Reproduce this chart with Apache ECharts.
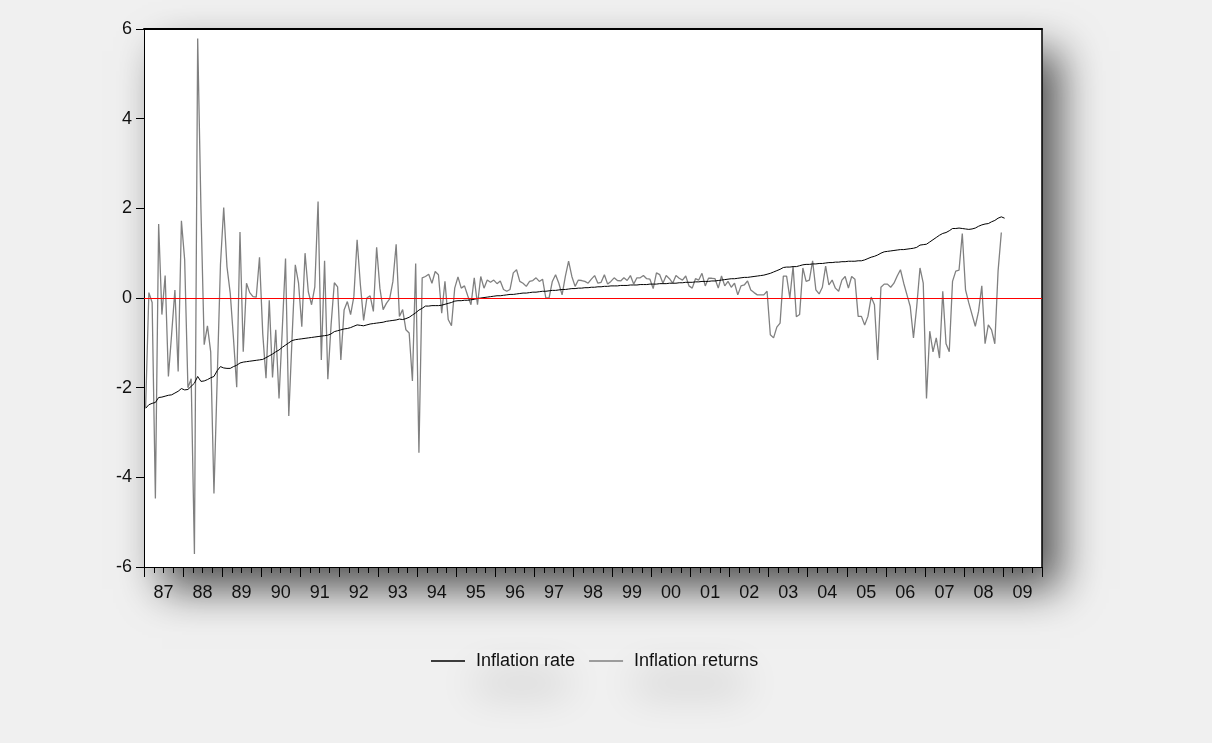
<!DOCTYPE html>
<html>
<head>
<meta charset="utf-8">
<script src="https://cdn.jsdelivr.net/npm/echarts@6/dist/echarts.min.js"></script>
<style>
html,body{margin:0;padding:0;background:#f0f0f0;}
#chart{width:1212px;height:743px;}
</style>
</head>
<body>
<div id="chart"></div>
<script>
// Year tick labels (1987..2009)
var yearLabels = ['87','88','89','90','91','92','93','94','95','96','97','98','99','00','01','02','03','04','05','06','07','08','09'];
var monthNames = ['M01','M02','M03','M04','M05','M06','M07','M08','M09','M10','M11','M12'];

// Inflation rate (black), monthly from 1987M01
var inflationRate = [
-2.46,-2.38,-2.35,-2.33,-2.22,-2.21,-2.19,-2.17,-2.16,-2.12,-2.08,-2.02,
-2.05,-2.04,-1.97,-1.90,-1.75,-1.86,-1.85,-1.82,-1.78,-1.75,-1.62,-1.53,
-1.56,-1.57,-1.57,-1.53,-1.50,-1.45,-1.43,-1.42,-1.41,-1.40,-1.39,-1.38,
-1.37,-1.33,-1.29,-1.25,-1.20,-1.16,-1.10,-1.05,-1.00,-0.95,-0.93,-0.92,
-0.91,-0.90,-0.89,-0.88,-0.87,-0.86,-0.85,-0.84,-0.83,-0.80,-0.75,-0.73,
-0.71,-0.69,-0.68,-0.66,-0.63,-0.60,-0.61,-0.62,-0.60,-0.58,-0.57,-0.56,
-0.55,-0.54,-0.52,-0.51,-0.50,-0.49,-0.47,-0.48,-0.46,-0.43,-0.38,-0.33,
-0.27,-0.23,-0.18,-0.18,-0.17,-0.17,-0.17,-0.16,-0.14,-0.12,-0.10,-0.07,
-0.06,-0.06,-0.05,-0.05,-0.04,-0.03,-0.01,0.00,0.01,0.02,0.03,0.04,
0.05,0.05,0.06,0.07,0.08,0.08,0.09,0.10,0.11,0.11,0.12,0.13,
0.13,0.14,0.15,0.15,0.16,0.17,0.17,0.18,0.19,0.19,0.20,0.21,
0.21,0.22,0.22,0.23,0.23,0.24,0.24,0.25,0.25,0.26,0.26,0.27,
0.27,0.27,0.28,0.28,0.28,0.29,0.29,0.29,0.30,0.30,0.30,0.31,
0.31,0.31,0.32,0.32,0.32,0.33,0.33,0.33,0.34,0.34,0.35,0.35,
0.35,0.36,0.36,0.37,0.37,0.37,0.38,0.38,0.39,0.40,0.41,0.42,
0.43,0.43,0.44,0.45,0.46,0.46,0.47,0.48,0.49,0.50,0.51,0.53,
0.55,0.58,0.61,0.64,0.68,0.69,0.69,0.70,0.70,0.72,0.74,0.75,
0.75,0.76,0.76,0.77,0.77,0.78,0.79,0.79,0.80,0.80,0.81,0.81,
0.82,0.82,0.82,0.83,0.83,0.85,0.88,0.91,0.93,0.96,1.00,1.03,
1.04,1.05,1.06,1.07,1.08,1.08,1.09,1.10,1.11,1.13,1.18,1.19,
1.20,1.25,1.30,1.35,1.40,1.44,1.46,1.50,1.55,1.55,1.56,1.55,
1.54,1.53,1.54,1.56,1.60,1.63,1.65,1.66,1.70,1.73,1.78,1.81,
1.78
];

// Inflation returns (gray), monthly from 1987M01
var inflationReturns = [
-2.45,0.12,-0.10,-4.47,1.65,-0.37,0.50,-1.75,-0.80,0.18,-1.64,1.72,
0.85,-2.00,-1.80,-5.71,5.79,2.00,-1.04,-0.62,-1.20,-4.36,-1.80,0.74,
2.02,0.70,0.11,-0.90,-1.99,1.47,-1.20,0.33,0.12,0.03,0.02,0.91,
-0.80,-1.79,-0.05,-1.77,-0.71,-2.24,-0.70,0.88,-2.63,-0.90,0.74,0.33,
-0.64,1.00,0.14,-0.15,0.25,2.15,-1.38,0.83,-1.81,-0.60,0.34,0.25,
-1.38,-0.27,-0.08,-0.37,0.03,1.30,0.30,-0.50,0.00,0.05,-0.30,1.13,
0.22,-0.26,-0.12,-0.02,0.37,1.20,-0.41,-0.26,-0.71,-0.78,-1.85,0.77,
-3.45,0.45,0.48,0.53,0.33,0.59,0.52,-0.34,0.37,-0.48,-0.62,0.22,
0.47,0.22,0.27,0.05,-0.15,0.45,-0.15,0.48,0.22,0.40,0.35,0.40,
0.32,0.38,0.19,0.15,0.19,0.56,0.63,0.37,0.33,0.26,0.37,0.39,
0.45,0.37,0.42,0.00,0.00,0.37,0.52,0.33,0.07,0.48,0.82,0.48,
0.26,0.40,0.39,0.37,0.33,0.42,0.50,0.33,0.35,0.52,0.31,0.37,
0.45,0.39,0.38,0.45,0.39,0.50,0.31,0.45,0.45,0.50,0.43,0.42,
0.21,0.56,0.52,0.33,0.50,0.43,0.33,0.50,0.44,0.40,0.49,0.27,
0.22,0.43,0.40,0.55,0.27,0.44,0.44,0.43,0.22,0.49,0.27,0.37,
0.24,0.33,0.07,0.27,0.29,0.38,0.18,0.12,0.07,0.07,0.07,0.15,
-0.82,-0.89,-0.65,-0.56,0.49,0.49,0.00,0.71,-0.42,-0.37,0.67,0.37,
0.40,0.83,0.18,0.09,0.24,0.71,0.29,0.40,0.22,0.15,0.40,0.48,
0.22,0.48,0.42,-0.41,-0.41,-0.60,-0.41,0.02,-0.15,-1.38,0.24,0.31,
0.31,0.24,0.33,0.49,0.63,0.33,0.07,-0.19,-0.89,-0.19,0.67,0.33,
-2.24,-0.74,-1.20,-0.89,-1.34,0.15,-1.02,-1.20,0.37,0.60,0.62,1.44,
0.18,-0.11,-0.37,-0.63,-0.30,0.27,-1.02,-0.60,-0.71,-1.02,0.60,1.46
];

var months = [];
yearLabels.forEach(function (y) { monthNames.forEach(function (m) { months.push(y + m); }); });

var FONT = "'Liberation Sans',Arial,sans-serif";
var chart = echarts.init(document.getElementById('chart'));
chart.setOption({
  backgroundColor: '#f0f0f0',
  animation: false,
  textStyle: { fontFamily: FONT },
  graphic: [
    { type: 'rect', z: 0, silent: true, shape: { x: 474, y: 650, width: 95, height: 14, r: 7 },
      style: { fill: '#f0f0f0', shadowBlur: 40, shadowOffsetY: 26, shadowColor: 'rgba(0,0,0,0.2)' } },
    { type: 'rect', z: 0, silent: true, shape: { x: 634, y: 650, width: 112, height: 14, r: 7 },
      style: { fill: '#f0f0f0', shadowBlur: 40, shadowOffsetY: 26, shadowColor: 'rgba(0,0,0,0.2)' } }
  ],
  grid: {
    left: 144, top: 29, width: 898, height: 538,
    show: true, backgroundColor: '#ffffff', borderWidth: 0,
    shadowColor: 'rgba(0,0,0,0.65)', shadowBlur: 40, shadowOffsetX: 18, shadowOffsetY: 22
  },
  legend: {
    z: 10, bottom: 68, left: 426, itemGap: 14, itemWidth: 34, itemHeight: 1.5,
    icon: 'rect',
    textStyle: { fontFamily: FONT, fontSize: 18, color: '#111', padding: [0, 0, 0, 6] },
    data: ['Inflation rate', 'Inflation returns']
  },
  xAxis: [
    {
      type: 'category', data: yearLabels, boundaryGap: true, gridIndex: 0, position: 'bottom',
      axisLine: { show: true, onZero: false, lineStyle: { color: '#000', width: 1 } },
      axisTick: { show: true, interval: 0, length: 10, inside: false, lineStyle: { color: '#000' } },
      axisLabel: { interval: 0, fontSize: 18, color: '#111', margin: 17, fontFamily: FONT },
      splitLine: { show: false }
    },
    {
      type: 'category', data: months, boundaryGap: true, gridIndex: 0, position: 'bottom',
      axisLine: { show: false, onZero: false },
      axisTick: { show: true, length: 6, lineStyle: { color: '#000' },
        interval: function (idx) { return idx % 3 === 0; } },
      axisLabel: { show: false },
      splitLine: { show: false }
    },
    {
      type: 'category', data: yearLabels, boundaryGap: true, gridIndex: 0, position: 'top',
      axisLine: { show: true, onZero: false, lineStyle: { color: '#000', width: 2 } },
      axisTick: { show: false }, axisLabel: { show: false }, splitLine: { show: false }
    }
  ],
  yAxis: [
    {
      type: 'value', min: -6, max: 6, interval: 2,
      axisLine: { show: true, onZero: false, lineStyle: { color: '#000' } },
      axisTick: { show: true, length: 8, lineStyle: { color: '#000' } },
      axisLabel: { fontSize: 18, color: '#111', margin: 12, fontFamily: FONT },
      splitLine: { show: false }
    },
    {
      type: 'value', min: -6, max: 6, interval: 2, position: 'right',
      axisLine: { show: true, onZero: false, lineStyle: { color: '#000', width: 1.5 } },
      axisTick: { show: false }, axisLabel: { show: false }, splitLine: { show: false }
    }
  ],
  series: [
    {
      name: 'Inflation rate', type: 'line', xAxisIndex: 1, yAxisIndex: 0, data: inflationRate,
      symbol: 'none', lineStyle: { color: '#000', width: 1 }, itemStyle: { color: '#000' },
      z: 4,
      markLine: {
        silent: true, symbol: 'none', label: { show: false },
        lineStyle: { color: '#ff0000', width: 1.2, type: 'solid' },
        data: [{ yAxis: 0 }]
      }
    },
    {
      name: 'Inflation returns', type: 'line', xAxisIndex: 1, yAxisIndex: 0, data: inflationReturns,
      symbol: 'none', lineStyle: { color: '#808080', width: 1.3 }, itemStyle: { color: '#808080' },
      z: 3
    }
  ]
});
</script>
</body>
</html>
